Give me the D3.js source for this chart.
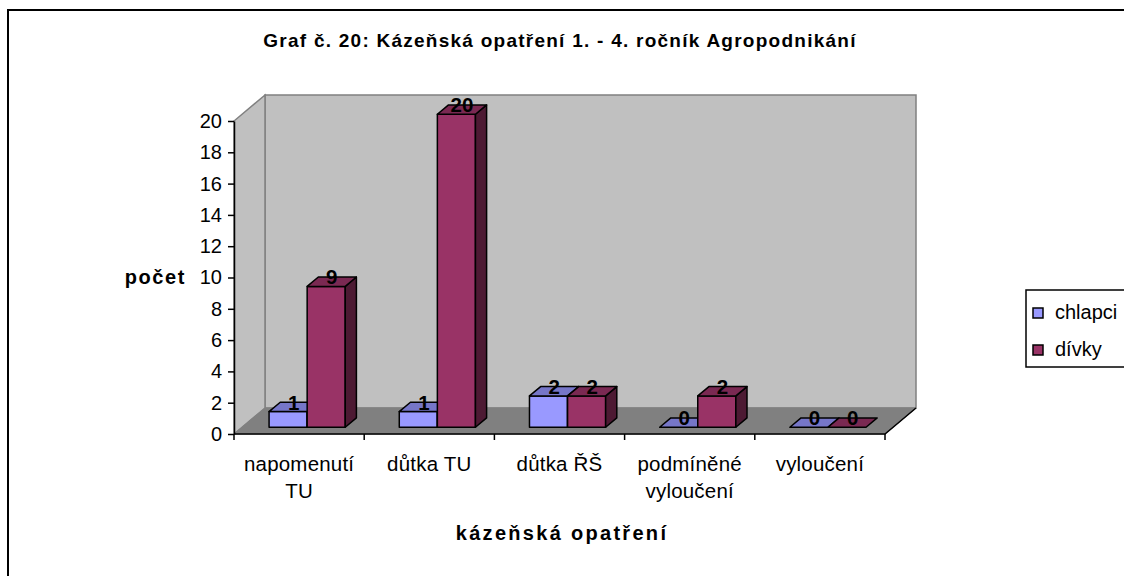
<!DOCTYPE html>
<html>
<head>
<meta charset="utf-8">
<script src="https://cdn.jsdelivr.net/npm/d3@7/dist/d3.min.js"></script>
<style>
  body { margin: 0; background: #fff; }
  svg { display: block; font-family: "Liberation Sans", Arial, sans-serif; }
</style>
</head>
<body>
<div id="chart"></div>
<script>
// data
const categories = ["napomenutí TU", "důtka TU", "důtka ŘŠ", "podmíněné vyloučení", "vyloučení"];
const categoryLines = [["napomenutí", "TU"], ["důtka TU"], ["důtka ŘŠ"], ["podmíněné", "vyloučení"], ["vyloučení"]];
const seriesNames = ["chlapci", "dívky"];
const chlapci = [1, 1, 2, 0, 0];
const divky = [9, 20, 2, 2, 0];
const yTicks = [0, 2, 4, 6, 8, 10, 12, 14, 16, 18, 20];

function createBarChart() {
    const w = 1124;
    const h = 576;
    const left = 234, right = 885;
    const bottom = 434, top = 121;
    const DX = 31, DY = 26;        // depth offset of back wall
    const z0 = 0.26, z1 = 0.62;    // depth of bars

    const colors = {
        "chlapci": { front: "#9999FF", top: "#7676C8", side: "#4C4C80" },
        "dívky":   { front: "#993366", top: "#7A2952", side: "#4D1A33" }
    };

    const values = { "chlapci": chlapci, "dívky": divky };

    /* SCALES */
    const x0 = d3.scaleBand().domain(categories).range([left, right])
        .paddingInner(0.415).paddingOuter(0.2075);
    const x1 = d3.scaleBand().domain(seriesNames).range([0, x0.bandwidth()]);
    const y = d3.scaleLinear().domain([0, 20]).range([bottom, top]);

    // 3d -> screen
    const P = (x, v, z) => [x + z * DX, y(v) - z * DY];
    const poly = pts => pts.map(p => p.join(",")).join(" ");

    const svg = d3.select("#chart").append("svg")
        .attr("width", w).attr("height", h);

    // outer border
    svg.append("rect")
        .attr("x", 8).attr("y", 10).attr("width", w).attr("height", h)
        .attr("fill", "#fff").attr("stroke", "#000").attr("stroke-width", 2);

    /* WALLS */
    svg.append("polygon")
        .attr("points", poly([P(left, 0, 1), P(left, 20, 1), P(right, 20, 1), P(right, 0, 1)]))
        .attr("fill", "#C0C0C0").attr("stroke", "#808080").attr("stroke-width", 1.5);
    svg.append("polygon")
        .attr("points", poly([P(left, 0, 0), P(left, 20, 0), P(left, 20, 1), P(left, 0, 1)]))
        .attr("fill", "#C0C0C0").attr("stroke", "#808080").attr("stroke-width", 1.5);
    svg.append("polygon")
        .attr("points", poly([P(left, 0, 0), P(right, 0, 0), P(right, 0, 1), P(left, 0, 1)]))
        .attr("fill", "#808080").attr("stroke", "#808080").attr("stroke-width", 1);
    svg.append("polyline")
        .attr("points", poly([P(left, 0, 0), P(right, 0, 0), P(right, 0, 1)]))
        .attr("fill", "none").attr("stroke", "#000").attr("stroke-width", 1.5);

    /* AXES */
    const yAxis = d3.axisLeft(y).tickValues(yTicks).tickSize(6).tickPadding(6).tickSizeOuter(0);
    const gy = svg.append("g").attr("transform", "translate(" + left + ",0)").call(yAxis);
    gy.select(".domain").attr("stroke", "#000").attr("stroke-width", 1.5);
    gy.selectAll(".tick line").attr("stroke", "#000").attr("stroke-width", 1.5);
    gy.selectAll(".tick text")
        .attr("font-family", "Liberation Sans, Arial, sans-serif")
        .attr("font-size", 20).attr("fill", "#000");

    // category ticks at the band boundaries
    const step = x0.step();
    const boundaries = d3.range(categories.length + 1).map(i => left + i * step);
    svg.append("g").selectAll("line").data(boundaries).enter().append("line")
        .attr("x1", d => d).attr("x2", d => d)
        .attr("y1", bottom).attr("y2", bottom + 6)
        .attr("stroke", "#000").attr("stroke-width", 1.5);

    const catText = svg.append("g").selectAll("text").data(categories).enter().append("text")
        .attr("x", d => x0(d) + x0.bandwidth() / 2)
        .attr("y", 471)
        .attr("text-anchor", "middle")
        .attr("font-size", 20.5)
        .attr("letter-spacing", 0.2);
    catText.each(function(d, i) {
        const t = d3.select(this);
        categoryLines[i].forEach((line, j) => {
            t.append("tspan")
                .attr("x", x0(d) + x0.bandwidth() / 2)
                .attr("dy", j === 0 ? 0 : 27)
                .text(line);
        });
    });

    /* BARS */
    const labels = [];
    categories.forEach((cat, i) => {
        seriesNames.forEach(s => {
            const v = values[s][i];
            const xa = x0(cat) + x1(s);
            const xb = xa + x1.bandwidth();
            const c = colors[s];
            const g = svg.append("g")
                .attr("stroke", "#000").attr("stroke-width", 1.5).attr("stroke-linejoin", "round");
            if (v > 0) {
                g.append("polygon")
                    .attr("points", poly([P(xa, 0, z0), P(xb, 0, z0), P(xb, v, z0), P(xa, v, z0)]))
                    .attr("fill", c.front);
                g.append("polygon")
                    .attr("points", poly([P(xb, 0, z0), P(xb, 0, z1), P(xb, v, z1), P(xb, v, z0)]))
                    .attr("fill", c.side);
            }
            g.append("polygon")
                .attr("points", poly([P(xa, v, z0), P(xb, v, z0), P(xb, v, z1), P(xa, v, z1)]))
                .attr("fill", c.top);
            const lp = P((xa + xb) / 2, v, (z0 + z1) / 2);
            labels.push({ x: lp[0], y: P(0, v, z0)[1] - 2, text: v });
        });
    });

    /* DATA LABELS */
    svg.append("g").selectAll("text").data(labels).enter().append("text")
        .attr("x", d => d.x).attr("y", d => d.y)
        .attr("text-anchor", "middle")
        .attr("font-size", 20.5).attr("font-weight", "bold")
        .text(d => d.text);

    /* TITLES */
    svg.append("text")
        .attr("x", 560).attr("y", 47)
        .attr("text-anchor", "middle")
        .attr("font-size", 19).attr("font-weight", "bold").attr("letter-spacing", 1.25)
        .text("Graf č. 20: Kázeňská opatření 1. - 4. ročník Agropodnikání");

    svg.append("text")
        .attr("x", 186).attr("y", 284)
        .attr("text-anchor", "end")
        .attr("font-size", 20).attr("font-weight", "bold").attr("letter-spacing", 1.6)
        .text("počet");

    svg.append("text")
        .attr("x", 562).attr("y", 540)
        .attr("text-anchor", "middle")
        .attr("font-size", 20).attr("font-weight", "bold").attr("letter-spacing", 2.3)
        .text("kázeňská opatření");

    /* LEGEND */
    svg.append("rect")
        .attr("x", 1026).attr("y", 290).attr("width", 120).attr("height", 77)
        .attr("fill", "#fff").attr("stroke", "#000").attr("stroke-width", 1.5);
    const leg = svg.append("g").selectAll("g").data(seriesNames).enter().append("g")
        .attr("transform", (d, i) => "translate(1033," + (308 + i * 37) + ")");
    leg.append("rect")
        .attr("width", 10).attr("height", 10)
        .attr("fill", d => colors[d].front).attr("stroke", "#000").attr("stroke-width", 1.5);
    leg.append("text")
        .attr("x", 22).attr("y", 11)
        .attr("font-size", 20)
        .text(d => d);
}

createBarChart();
</script>
</body>
</html>
